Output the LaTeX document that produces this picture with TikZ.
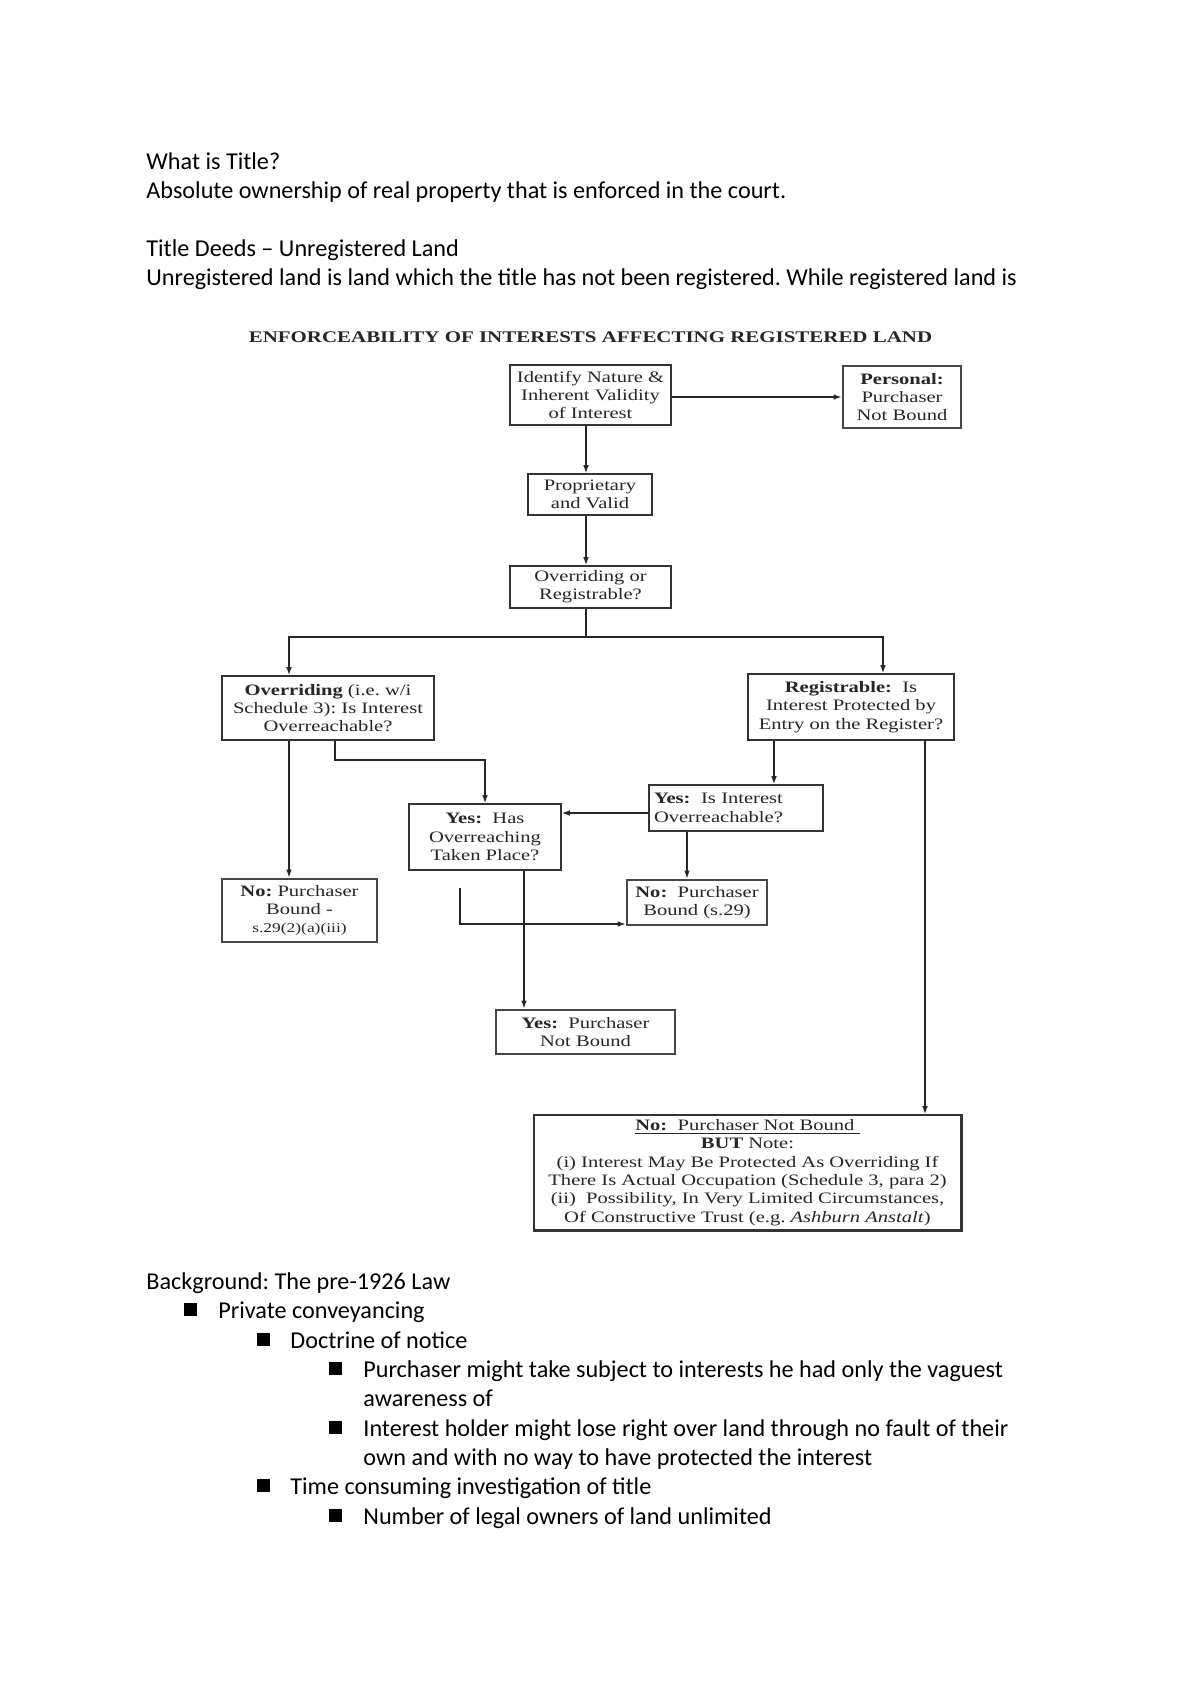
\documentclass[tikz,border=0pt]{standalone}
\usepackage{fontspec}
\setmainfont{Carlito}
\newfontfamily\diag[FakeStretch=1.29]{Liberation Serif}
\usetikzlibrary{arrows.meta}
\frenchspacing
\newcommand\bx[7]{\node[#6,minimum width={(#4-#2)*0.49607pt},minimum height={(#5-#3)*0.49607pt}] (#1) at ({(#2+#4)/2},{(#3+#5)/2}) {#7};}
\newcommand\sqb[2]{\fill (#1,#2-15) rectangle (#1+13,#2-2);}
\begin{document}
\frenchspacing
\begin{tikzpicture}[x=0.49607pt,y=-0.49607pt,
  body/.style={anchor=base west,inner sep=0,font=\fontsize{12}{14.6}\selectfont},
  box/.style={draw=black!80,line width=0.7pt,inner sep=0,align=center,text=black!85,font=\diag\fontsize{7.9}{9.1}\selectfont},
  heavy/.style={box,draw=black!72,line width=1.3pt},
  arr/.style={draw=black!85,line width=0.7pt,-{Latex[length=4pt,width=2.8pt]}},
  ln/.style={draw=black!85,line width=0.7pt}]
\fill[white] (0,0) rectangle (1200,1698);
\useasboundingbox (0,0) rectangle (1200,1698);

% top text
\node[body] (t1) at (146,169) {What is Title?};
\node[body] (t2) at (146,198) {Absolute ownership of real property that is enforced in the court.};
\node[body] (t3) at (146,256) {Title Deeds – Unregistered Land};
\node[body] (t4) at (146,285) {Unregistered land is land which the title has not been registered. While registered land is};

% diagram title
\node[inner sep=0,text=black!85,font=\diag\bfseries\fontsize{8.05}{9}\selectfont] (ttl) at (590.5,337) {ENFORCEABILITY OF INTERESTS AFFECTING REGISTERED LAND};

% boxes
\bx{idn}{510}{365}{671}{425}{box}{Identify Nature \&\\Inherent Validity\\of Interest}
\bx{pers}{843}{366}{961}{428}{heavy}{\textbf{Personal:}\\Purchaser\\Not Bound}
\bx{prop}{528}{474}{652}{515}{box}{Proprietary\\and Valid}
\bx{oor}{510}{566}{671}{608}{box}{Overriding or\\Registrable?}
\bx{ovr}{222}{676}{434}{740}{box}{\textbf{Overriding} (i.e. w/i\\Schedule 3): Is Interest\\Overreachable?}
\bx{reg}{748}{674}{954}{740}{box}{\textbf{Registrable:}\ \ Is\\Interest Protected by\\Entry on the Register?}
\bx{yh}{409}{804}{561}{870}{box}{\textbf{Yes:}\ \ Has\\Overreaching\\Taken Place?}
\bx{yi}{649}{785}{823}{831}{box,align=left,text width={164*0.49607pt}}{\textbf{Yes:}\ \ Is Interest\\Overreachable?}
\bx{noa}{222}{879}{377}{942}{heavy}{\textbf{No:} Purchaser\\Bound -\\{\fontsize{6.7}{8}\selectfont s.29(2)(a)(iii)}}
\bx{nob}{627}{880}{767}{925}{heavy}{\textbf{No:}\ \ Purchaser\\Bound (s.29)}
\bx{yp}{496}{1010}{675}{1054}{heavy}{\textbf{Yes:}\ \ Purchaser\\Not Bound}
\bx{fin}{534}{1115}{961}{1230}{box}{\underline{\textbf{No:}\ \ Purchaser Not Bound\ }\\\textbf{BUT} Note:\\(i) Interest May Be Protected As Overriding If\\There Is Actual Occupation (Schedule 3, para 2)\\(ii)\ \ Possibility, In Very Limited Circumstances,\\Of Constructive Trust (e.g. \textit{Ashburn Anstalt})}
\draw[draw=black!80,line width=1.4pt] (fin.north east) -- (fin.south east) -- (fin.south west);

% connector helper coordinates
\coordinate (m) at (586,500);
\coordinate (split) at (586,637);
\coordinate (sL) at (289,637);
\coordinate (sR) at (883,637);
\coordinate (c1) at (335,760);
\coordinate (c2) at (774,760);
\coordinate (c3) at (925,900);
\coordinate (c4) at (600,813);
\coordinate (c5) at (687,850);
\coordinate (c6) at (524,950);
\coordinate (f0) at (460,888);
\coordinate (f1) at (460,924);

% connectors
\draw[arr] (idn.east |- pers.west) -- (pers.west);
\draw[arr] (idn.south -| m) -- (prop.north -| m);
\draw[arr] (prop.south -| m) -- (oor.north -| m);
\draw[ln] (oor.south -| m) -- (split);
\draw[arr] (split) -- (sL) -- (sL |- ovr.north);
\draw[arr] (split) -- (sR) -- (sR |- reg.north);
\draw[arr] (sL |- ovr.south) -- (sL |- noa.north);
\draw[arr] (ovr.south -| c1) -- (c1) -| (yh.north);
\draw[arr] (reg.south -| c2) -- (yi.north -| c2);
\draw[arr] (reg.south -| c3) -- (fin.north -| c3);
\draw[arr] (yi.west |- c4) -- (yh.east |- c4);
\draw[arr] (yi.south -| c5) -- (nob.north -| c5);
\draw[arr] (yh.south -| c6) -- (yp.north -| c6);
\draw[arr] (f0) -- (f1) -- (f1 -| nob.west);

% bottom text
\node[body] (b0) at (146,1289) {Background: The pre-1926 Law};
\sqb{184}{1318}\node[body] (b1) at (218,1318) {Private conveyancing};
\sqb{257}{1348}\node[body] (b2) at (290,1348) {Doctrine of notice};
\sqb{329}{1377}\node[body] (b3) at (363,1377) {Purchaser might take subject to interests he had only the vaguest};
\node[body] (b3b) at (363,1406) {awareness of};
\sqb{329}{1436}\node[body] (b4) at (363,1436) {Interest holder might lose right over land through no fault of their};
\node[body] (b4b) at (363,1465) {own and with no way to have protected the interest};
\sqb{257}{1494}\node[body] (b5) at (290,1494) {Time consuming investigation of title};
\sqb{329}{1524}\node[body] (b6) at (363,1524) {Number of legal owners of land unlimited};
\end{tikzpicture}
\end{document}
